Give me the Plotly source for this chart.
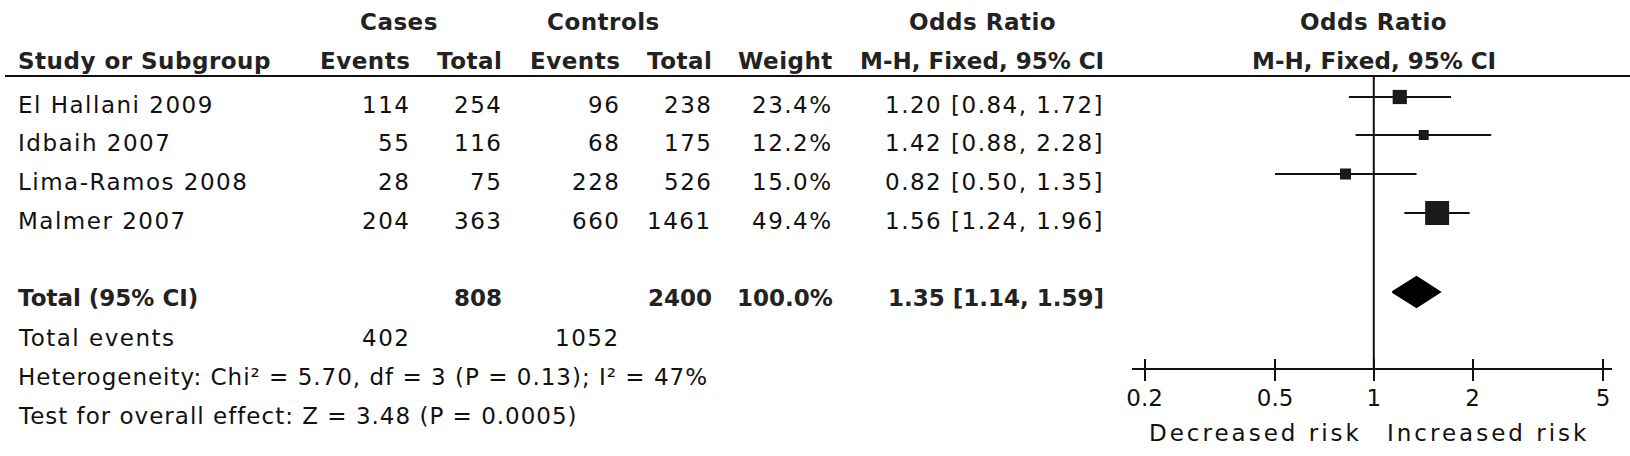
import plotly.graph_objects as go

W, H = 1630, 456

# ---------------- data ----------------
studies = ["El Hallani 2009", "Idbaih 2007", "Lima-Ramos 2008", "Malmer 2007"]
cases_events = [114, 55, 28, 204]
cases_total = [254, 116, 75, 363]
ctrl_events = [96, 68, 228, 660]
ctrl_total = [238, 175, 526, 1461]
weights = [23.4, 12.2, 15.0, 49.4]
or_est = [1.20, 1.42, 0.82, 1.56]
ci_low = [0.84, 0.88, 0.50, 1.24]
ci_high = [1.72, 2.28, 1.35, 1.96]

total_label = "Total (95% CI)"
total_cases = 808
total_ctrl = 2400
total_weight = 100.0
total_or = 1.35
total_low = 1.14
total_high = 1.59
total_events_cases = 402
total_events_ctrl = 1052
heterogeneity = "Heterogeneity: Chi² = 5.70, df = 3 (P = 0.13); I² = 47%"
overall_test = "Test for overall effect: Z = 3.48 (P = 0.0005)"

tick_vals = [0.2, 0.5, 1, 2, 5]
tick_text = ["0.2", "0.5", "1", "2", "5"]
favours_left = "Decreased risk"
favours_right = "Increased risk"

# ---------------- layout constants (pixels) ----------------
FONT = "DejaVu Sans"
TXT = "#111111"
HDR = "#222222"
row_y = [97, 135, 174, 213]
TXT_OFF = 8
total_y = 292
total_txt_y = 298
total_events_y = 338
het_y = 377
test_y = 416
hdr1_y, hdr2_y = 22, 61
line_y = 76
axis_y = 369
x_one = 1373
px_per_dec = 329
ax_left, ax_right = 1130, 1612

col_name = 12
col_ce, col_ct, col_xe, col_xt, col_w, col_or = 407, 500, 618, 710, 832, 1103

fig = go.Figure()


def ann(xpx, ypx, text, anchor="right", bold=False, size=23, spacing=1.5, color=TXT):
    if spacing:
        text = f'<span style="letter-spacing:{spacing}px">{text}</span>'
    fig.add_annotation(
        x=xpx / W, y=ypx, xref="paper", yref="y", text=text, showarrow=False,
        xanchor=anchor, yanchor="middle", borderpad=0,
        font=dict(family=FONT, size=size, color=color, weight=700 if bold else 400),
    )


# headers
ann(395, hdr1_y, "Cases", "center", bold=True, spacing=0.5, color=HDR)
ann(600, hdr1_y, "Controls", "center", bold=True, spacing=0.5, color=HDR)
ann(981, hdr1_y, "Odds Ratio", "center", bold=True, spacing=0.5, color=HDR)
ann(x_one, hdr1_y, "Odds Ratio", "center", bold=True, spacing=0.5, color=HDR)
ann(col_name, hdr2_y, "Study or Subgroup", "left", bold=True, spacing=0.5, color=HDR)
ann(col_ce, hdr2_y, "Events", bold=True, spacing=0.5, color=HDR)
ann(col_ct, hdr2_y, "Total", bold=True, spacing=0.5, color=HDR)
ann(col_xe, hdr2_y, "Events", bold=True, spacing=0.5, color=HDR)
ann(col_xt, hdr2_y, "Total", bold=True, spacing=0.5, color=HDR)
ann(col_w, hdr2_y, "Weight", bold=True, spacing=0.5, color=HDR)
ann(col_or, hdr2_y, "M-H, Fixed, 95% CI", bold=True, spacing=0, color=HDR)
ann(x_one, hdr2_y, "M-H, Fixed, 95% CI", "center", bold=True, spacing=0, color=HDR)

fig.add_shape(type="line", xref="paper", yref="y", x0=0, x1=1, y0=line_y, y1=line_y,
              line=dict(color="#111111", width=2))

# study rows
for i, s in enumerate(studies):
    ty = row_y[i] + TXT_OFF
    ann(col_name, ty, s, "left")
    ann(col_ce, ty, str(cases_events[i]))
    ann(col_ct, ty, str(cases_total[i]))
    ann(col_xe, ty, str(ctrl_events[i]))
    ann(col_xt, ty, str(ctrl_total[i]))
    ann(col_w, ty, f"{weights[i]:.1f}%")
    ann(col_or, ty, f"{or_est[i]:.2f} [{ci_low[i]:.2f}, {ci_high[i]:.2f}]")

# total rows
ann(col_name, total_txt_y, total_label, "left", bold=True, spacing=0, color=HDR)
ann(col_ct, total_txt_y, str(total_cases), bold=True, spacing=0, color=HDR)
ann(col_xt, total_txt_y, str(total_ctrl), bold=True, spacing=0, color=HDR)
ann(col_w, total_txt_y, f"{total_weight:.1f}%", bold=True, spacing=0, color=HDR)
ann(col_or, total_txt_y, f"{total_or:.2f} [{total_low:.2f}, {total_high:.2f}]", bold=True, spacing=0, color=HDR)

ann(col_name, total_events_y, "Total events", "left")
ann(col_ce, total_events_y, str(total_events_cases))
ann(col_xe, total_events_y, str(total_events_ctrl))
ann(col_name, het_y, heterogeneity, "left", spacing=1)
ann(col_name, test_y, overall_test, "left", spacing=1)

# favours labels
ann(1362, 433, favours_left, "right", spacing=3)
ann(1385, 433, favours_right, "left", spacing=3)

# null line
fig.add_trace(go.Scatter(x=[1, 1], y=[line_y, axis_y], mode="lines",
                         line=dict(color="#111111", width=2), hoverinfo="skip"))

# CI lines
for i in range(len(studies)):
    fig.add_trace(go.Scatter(x=[ci_low[i], ci_high[i]], y=[row_y[i], row_y[i]], mode="lines",
                             line=dict(color="#111111", width=2), hoverinfo="skip"))

# squares (size scaled from weight)
fig.add_trace(go.Scatter(
    x=or_est, y=row_y, mode="markers",
    marker=dict(symbol="square", size=[5.4 + 0.376 * w for w in weights], color="#1a1a1a",
                opacity=1, line=dict(width=0)),
    hoverinfo="skip"))

# diamond
dh = 15
fig.add_trace(go.Scatter(
    x=[total_low, total_or, total_high, total_or, total_low],
    y=[total_y, total_y - dh, total_y, total_y + dh, total_y],
    mode="lines", fill="toself", fillcolor="#000000",
    line=dict(color="#000000", width=2), hoverinfo="skip"))

# invisible trace for tick overlay axis
fig.add_trace(go.Scatter(x=[1], y=[0], xaxis="x2", mode="markers",
                         marker=dict(opacity=0), hoverinfo="skip"))

rng = [(ax_left - x_one) / px_per_dec, (ax_right - x_one) / px_per_dec]
dom = [ax_left / W, ax_right / W]
pos = 1 - axis_y / H

fig.update_layout(
    width=W, height=H, autosize=False,
    margin=dict(l=0, r=0, t=0, b=0, pad=0),
    paper_bgcolor="white", plot_bgcolor="white",
    showlegend=False,
    xaxis=dict(type="log", domain=dom, range=rng, anchor="free", position=pos,
               showline=True, linecolor="#111111", linewidth=2,
               ticks="outside", ticklen=11, tickwidth=2, tickcolor="#111111",
               tickvals=tick_vals, ticktext=tick_text, ticklabelstandoff=-3,
               tickfont=dict(family=FONT, size=23, color=TXT),
               showgrid=False, zeroline=False, fixedrange=True),
    xaxis2=dict(type="log", domain=dom, range=rng, anchor="free", position=pos,
                overlaying="x", showline=False,
                ticks="inside", ticklen=10, tickwidth=2, tickcolor="#111111",
                tickvals=tick_vals, showticklabels=False,
                showgrid=False, zeroline=False, fixedrange=True),
    yaxis=dict(range=[H, 0], domain=[0, 1], visible=False, fixedrange=True),
)

fig.write_html(
    "out.html",
    config={"displayModeBar": False, "staticPlot": True},
    post_script="document.documentElement.style.margin='0';document.body.style.margin='0';"
                "document.body.style.overflow='hidden';",
)
